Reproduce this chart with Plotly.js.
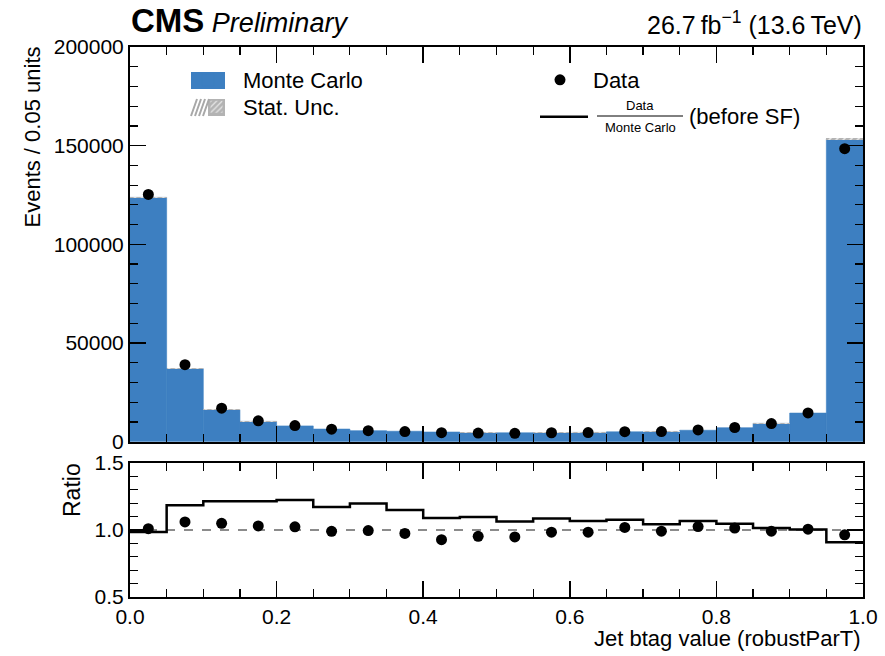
<!DOCTYPE html>
<html>
<head>
<meta charset="utf-8">
<script src="https://cdn.plot.ly/plotly-3.0.1.min.js"></script>
<style>html,body{margin:0;padding:0;background:#fff;}#chart{width:885px;height:656px;}</style>
</head>
<body>
<div id="chart"></div>
<script>
// ---- data ----
const binEdges   = [0.0,0.05,0.1,0.15,0.2,0.25,0.3,0.35,0.4,0.45,0.5,0.55,0.6,0.65,0.7,0.75,0.8,0.85,0.9,0.95,1.0];
const binCenters = [0.025,0.075,0.125,0.175,0.225,0.275,0.325,0.375,0.425,0.475,0.525,0.575,0.625,0.675,0.725,0.775,0.825,0.875,0.925,0.975];
const mcEvents   = [123800,37000,16200,10300,8000,6400,5600,5300,4900,4600,4500,4600,4700,5000,5200,5800,7100,9300,14500,153500];
const mcStatUnc  = [400,200,130,100,90,80,75,73,70,68,67,68,69,71,72,76,84,96,120,400];
const dataEvents = [125300,39000,17000,10600,8200,6350,5600,5150,4550,4400,4270,4530,4620,5100,5150,5950,7200,9200,14600,148500];
const dataRatio  = [1.01,1.06,1.05,1.03,1.024,0.99,0.996,0.974,0.928,0.953,0.948,0.984,0.984,1.019,0.991,1.026,1.014,0.991,1.006,0.964];
const ratioBeforeSF = [0.985,1.185,1.215,1.215,1.223,1.172,1.198,1.15,1.09,1.097,1.064,1.085,1.067,1.077,1.042,1.067,1.047,1.014,1.004,0.908];
const xTickVals  = [0.0,0.2,0.4,0.6,0.8,1.0];

// ---- layout helpers (pixel -> paper) ----
const L = 130, R = 863, T = 47, B = 597;
const px = p => (p - L) / (R - L);
const py = p => (B - p) / (B - T);

const FONT = "Liberation Sans, Arial, Helvetica, sans-serif";
const blue = "#3d7fc1";
const gray = "#b3b3b3";

const traces = [
  {
    type: "bar", x: binCenters, y: mcEvents, width: 0.05,
    marker: {color: blue, line: {width: 0.6, color: blue}},
    name: "Monte Carlo", legend: "legend", xaxis: "x", yaxis: "y", hoverinfo: "skip"
  },
  {
    type: "bar", x: binCenters,
    base: mcEvents.map((v, i) => v - mcStatUnc[i]),
    y: mcStatUnc.map(u => 2 * u), width: 0.05,
    marker: {color: gray, line: {width: 0},
             pattern: {shape: "/", fgcolor: "#e8e8e8", bgcolor: gray, size: 5, solidity: 0.3}},
    name: "Stat. Unc.", legend: "legend4", xaxis: "x", yaxis: "y", hoverinfo: "skip"
  },
  {
    type: "scatter", mode: "markers", x: binCenters, y: dataEvents,
    marker: {color: "black", size: 11},
    name: "Data", legend: "legend2", xaxis: "x", yaxis: "y"
  },
  {
    type: "scatter", mode: "lines", x: binEdges,
    y: ratioBeforeSF.concat([ratioBeforeSF[ratioBeforeSF.length - 1]]),
    line: {shape: "hv", color: "black", width: 2.5},
    name: "\u00a0", legend: "legend3",
    xaxis: "x2", yaxis: "y2"
  },
  {
    type: "scatter", mode: "markers", x: binCenters, y: dataRatio,
    marker: {color: "black", size: 11}, showlegend: false, xaxis: "x2", yaxis: "y2"
  }
];

const axisCommon = {
  showline: true, linecolor: "black", linewidth: 2, mirror: "allticks",
  ticks: "inside", ticklen: 16, tickwidth: 1.5, tickcolor: "black",
  showgrid: false, zeroline: false,
  tickfont: {family: FONT, size: 21, color: "black"}
};

const legendCommon = {
  xanchor: "left", yanchor: "top", bgcolor: "rgba(0,0,0,0)", borderwidth: 0,
  font: {family: FONT, size: 22, color: "black"}
};

// hatch strokes for the Stat. Unc. legend swatch
const hatch = [191, 195, 199, 203].map(x0 => ({
  type: "line", xref: "paper", yref: "paper",
  x0: px(x0), y0: py(116), x1: px(x0 + 6), y1: py(99),
  line: {color: "#a8a8a8", width: 2}
}));

const layout = {
  width: 885, height: 656,
  margin: {l: L, r: 885 - R, t: T, b: 656 - B},
  paper_bgcolor: "white", plot_bgcolor: "white",
  barmode: "overlay", bargap: 0,
  font: {family: FONT, color: "black"},
  xaxis: Object.assign({}, axisCommon, {
    domain: [0, 1], anchor: "y", range: [0, 1], tickvals: xTickVals, showticklabels: false,
    minor: {dtick: 0.05, ticks: "inside", ticklen: 8, tickwidth: 1.2, tickcolor: "black"}
  }),
  yaxis: Object.assign({}, axisCommon, {
    domain: [py(441.7), 1], anchor: "x", range: [0, 200000], dtick: 50000, tickformat: "d",
    minor: {dtick: 10000, ticks: "inside", ticklen: 8, tickwidth: 1.2, tickcolor: "black"}
  }),
  xaxis2: Object.assign({}, axisCommon, {
    domain: [0, 1], anchor: "y2", range: [0, 1], tickvals: xTickVals, tickformat: ".1f",
    minor: {dtick: 0.05, ticks: "inside", ticklen: 8, tickwidth: 1.2, tickcolor: "black"}
  }),
  yaxis2: Object.assign({}, axisCommon, {
    domain: [0, py(463)], anchor: "x2", range: [0.5, 1.5], dtick: 0.5, tickformat: ".1f",
    minor: {dtick: 0.1, ticks: "inside", ticklen: 8, tickwidth: 1.2, tickcolor: "black"}
  }),
  legend:  Object.assign({}, legendCommon, {x: px(173), y: py(59), itemwidth: 60}),
  legend4: Object.assign({}, legendCommon, {x: px(190), y: py(86), itemwidth: 43}),
  legend2: Object.assign({}, legendCommon, {x: px(527), y: py(59), itemwidth: 56}),
  legend3: Object.assign({}, legendCommon, {x: px(535), y: py(96), itemwidth: 48}),
  shapes: [
    {type: "line", xref: "x2 domain", yref: "y2", x0: 0, x1: 1, y0: 1, y1: 1,
     line: {color: "#666", width: 1.5, dash: "dash"}, layer: "below"},
    // fraction bar of the "Data / Monte Carlo" legend label
    {type: "line", xref: "paper", yref: "paper", x0: px(597), x1: px(683), y0: py(116), y1: py(116),
     line: {color: "black", width: 1}},
    // legend swatches drawn at the reference size
    {type: "rect", xref: "paper", yref: "paper", x0: px(191), x1: px(225), y0: py(89), y1: py(72),
     fillcolor: blue, line: {width: 0}},
    {type: "rect", xref: "paper", yref: "paper", x0: px(208), x1: px(225), y0: py(116), y1: py(99),
     fillcolor: gray, line: {width: 0}}
  ].concat(hatch),
  annotations: [
    {xref: "paper", yref: "paper", x: px(129), y: py(41), xanchor: "left", yanchor: "bottom", showarrow: false,
     text: "<span style='font-size:33px'><b>CMS</b></span> <span style='font-size:27px'><i>Preliminary</i></span>",
     font: {family: FONT, size: 27, color: "black"}},
    {xref: "paper", yref: "paper", x: px(864), y: py(41), xanchor: "right", yanchor: "bottom", showarrow: false,
     text: "26.7\u2009fb<sup>\u22121</sup> (13.6\u2009TeV)", font: {family: FONT, size: 25, color: "black"}},
    {xref: "paper", yref: "paper", x: px(32), y: py(44), xanchor: "center", yanchor: "top", showarrow: false,
     textangle: -90, text: "Events / 0.05 units", font: {family: FONT, size: 22, color: "black"}},
    {xref: "paper", yref: "paper", x: px(72), y: py(461), xanchor: "center", yanchor: "top", showarrow: false,
     textangle: -90, text: "Ratio", font: {family: FONT, size: 23, color: "black"}},
    {xref: "paper", yref: "paper", x: px(863), y: py(638), xanchor: "right", yanchor: "middle", showarrow: false,
     text: "Jet btag value (robustParT)", font: {family: FONT, size: 22, color: "black"}},
    {xref: "paper", yref: "paper", x: px(640), y: py(105), xanchor: "center", yanchor: "middle", showarrow: false,
     text: "Data", font: {family: FONT, size: 13, color: "black"}},
    {xref: "paper", yref: "paper", x: px(640), y: py(127), xanchor: "center", yanchor: "middle", showarrow: false,
     text: "Monte Carlo", font: {family: FONT, size: 13, color: "black"}},
    {xref: "paper", yref: "paper", x: px(687), y: py(116), xanchor: "left", yanchor: "middle", showarrow: false,
     text: "(before SF)", font: {family: FONT, size: 22, color: "black"}}
  ]
};

Plotly.newPlot("chart", traces, layout, {displayModeBar: false, staticPlot: true});
</script>
</body>
</html>
